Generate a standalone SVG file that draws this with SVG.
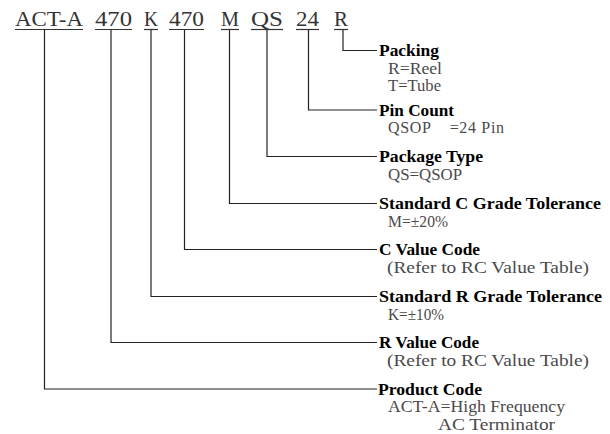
<svg xmlns="http://www.w3.org/2000/svg" width="610" height="434" viewBox="0 0 610 434">
<style>
.code{font-family:"Liberation Serif","Times New Roman",serif;font-size:20px;fill:#333}
.t{font-family:"Liberation Serif","Times New Roman",serif;font-size:16px;font-weight:bold;fill:#000}
.s{font-family:"Liberation Serif","Times New Roman",serif;font-size:16px;fill:#4a4a4a}
.ln{stroke:#222;stroke-width:1.2;fill:none}
.ul{stroke:#333;stroke-width:1.2}
</style>
<rect width="610" height="434" fill="#fff"/>
<g id="code">
<text class="code" x="15" y="26" textLength="68" lengthAdjust="spacingAndGlyphs">ACT-A</text>
<text class="code" x="95" y="26" textLength="37" lengthAdjust="spacingAndGlyphs">470</text>
<text class="code" x="144" y="26" textLength="14" lengthAdjust="spacingAndGlyphs">K</text>
<text class="code" x="169" y="26" textLength="35" lengthAdjust="spacingAndGlyphs">470</text>
<text class="code" x="221" y="26" textLength="18" lengthAdjust="spacingAndGlyphs">M</text>
<text class="code" x="251" y="26" textLength="32" lengthAdjust="spacingAndGlyphs">QS</text>
<text class="code" x="296" y="26" textLength="23" lengthAdjust="spacingAndGlyphs">24</text>
<text class="code" x="334" y="26" textLength="14" lengthAdjust="spacingAndGlyphs">R</text>
<line class="ul" x1="15" y1="29.5" x2="83" y2="29.5"/>
<line class="ul" x1="95" y1="29.5" x2="132" y2="29.5"/>
<line class="ul" x1="144" y1="29.5" x2="158" y2="29.5"/>
<line class="ul" x1="169" y1="29.5" x2="204" y2="29.5"/>
<line class="ul" x1="221" y1="29.5" x2="239" y2="29.5"/>
<line class="ul" x1="251" y1="29.5" x2="283" y2="29.5"/>
<line class="ul" x1="296" y1="29.5" x2="319" y2="29.5"/>
<line class="ul" x1="334" y1="29.5" x2="348" y2="29.5"/>
</g>
<g id="connectors">
<polyline class="ln" points="343,30 343,50.5 377,50.5"/>
<polyline class="ln" points="308.5,30 308.5,110 377,110"/>
<polyline class="ln" points="267,30 267,156.5 377,156.5"/>
<polyline class="ln" points="229.5,30 229.5,203.5 377,203.5"/>
<polyline class="ln" points="184.5,30 184.5,249.5 377,249.5"/>
<polyline class="ln" points="151,30 151,296.5 377,296.5"/>
<polyline class="ln" points="111,30 111,342.5 377,342.5"/>
<polyline class="ln" points="44.5,30 44.5,389 377,389"/>
</g>
<g id="packing">
<text class="t" x="379" y="56" textLength="60" lengthAdjust="spacingAndGlyphs">Packing</text>
<text class="s" x="388" y="73.5" textLength="54" lengthAdjust="spacingAndGlyphs">R=Reel</text>
<text class="s" x="388" y="91" textLength="53" lengthAdjust="spacingAndGlyphs">T=Tube</text>
</g>
<g id="pincount">
<text class="t" x="379" y="115.5" textLength="75" lengthAdjust="spacingAndGlyphs">Pin Count</text>
<text class="s" x="388" y="133" textLength="116" lengthAdjust="spacing" xml:space="preserve">QSOP    =24 Pin</text>
</g>
<g id="packagetype">
<text class="t" x="379" y="162" textLength="104" lengthAdjust="spacingAndGlyphs">Package Type</text>
<text class="s" x="388" y="179.5" textLength="74" lengthAdjust="spacingAndGlyphs">QS=QSOP</text>
</g>
<g id="ctol">
<text class="t" x="379" y="209" textLength="222" lengthAdjust="spacingAndGlyphs">Standard C Grade Tolerance</text>
<text class="s" x="388" y="226.5" textLength="60" lengthAdjust="spacingAndGlyphs">M=±20%</text>
</g>
<g id="cvalue">
<text class="t" x="379" y="255" textLength="101" lengthAdjust="spacingAndGlyphs">C Value Code</text>
<text class="s" x="387" y="272.5" textLength="202" lengthAdjust="spacingAndGlyphs">(Refer to RC Value Table)</text>
</g>
<g id="rtol">
<text class="t" x="379" y="302" textLength="223" lengthAdjust="spacingAndGlyphs">Standard R Grade Tolerance</text>
<text class="s" x="388" y="319.5" textLength="56" lengthAdjust="spacingAndGlyphs">K=±10%</text>
</g>
<g id="rvalue">
<text class="t" x="379" y="348" textLength="100" lengthAdjust="spacingAndGlyphs">R Value Code</text>
<text class="s" x="387" y="365.5" textLength="202" lengthAdjust="spacingAndGlyphs">(Refer to RC Value Table)</text>
</g>
<g id="product">
<text class="t" x="378" y="394.5" textLength="104" lengthAdjust="spacingAndGlyphs">Product Code</text>
<text class="s" x="388" y="412" textLength="177" lengthAdjust="spacingAndGlyphs">ACT-A=High Frequency</text>
<text class="s" x="438" y="429.5" textLength="117" lengthAdjust="spacingAndGlyphs">AC Terminator</text>
</g>
</svg>
